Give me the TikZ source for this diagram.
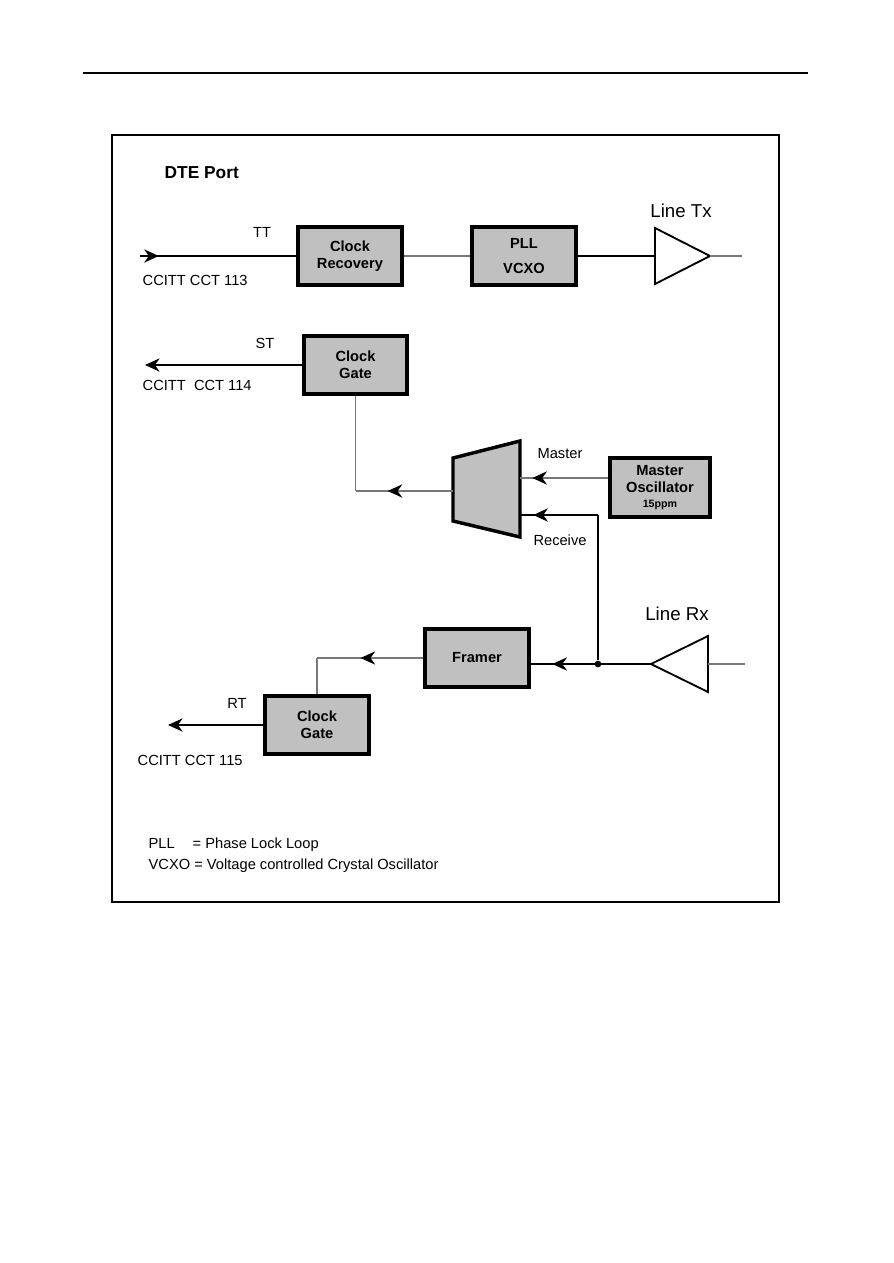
\documentclass[tikz,border=0pt]{standalone}
\usepackage{fontspec}
\setmainfont{Liberation Sans}
\usetikzlibrary{arrows.meta,decorations.markings}
\definecolor{boxgray}{RGB}{192,192,192}
\definecolor{wiregray}{RGB}{120,120,120}
\tikzset{
    clock diagram/.style = {x=0.75pt, y=-0.75pt,
                            >={Stealth[length=11pt,width=10pt]}},
    wire/.style          = {line width=0.8pt},
    gwire/.style         = {wire, draw=wiregray},
    unit/.style          = {draw, line width=2.6pt, fill=boxgray,
                            font=\bfseries\fontsize{11}{13}\selectfont,
                            align=center, inner sep=0pt,
                            minimum width=78pt, minimum height=43.5pt},
    amp/.style           = {line width=1.4pt, line join=miter},
    flow/.style          = {postaction={decorate},
                            decoration={markings,
                              mark=at position #1 with
                              {\arrow[black]{Stealth[length=11pt,width=10pt]}}}},
    sig/.style           = {font=\fontsize{11}{13}\selectfont},
    port/.style          = {font=\fontsize{14}{16}\selectfont},
    tap/.style           = {circle, fill, inner sep=0pt, minimum size=5pt}
}

\begin{document}
\begin{tikzpicture}[clock diagram]
\useasboundingbox (0,0) rectangle (893,1263);

% ================= Page rule and frame =================
\draw[line width=1.1pt] (83,73) -- (808,73);
\draw[line width=1.1pt] (112,135) rectangle (779,902);
\node[font=\bfseries\fontsize{13}{15}\selectfont, anchor=west] (title) at (160,173) {DTE Port};

% ================= Transmit path =================
\coordinate (ttin) at (140,256);
\node[unit] (crec) at (350,256) {Clock\\Recovery};
\node[unit] (pll) at (524,256) {PLL\\[6pt]VCXO};
\coordinate (txin) at (655,256);
\coordinate (txtip) at (710,256);
\coordinate (txout) at (742,256);
\draw[amp] (655,228) -- (txtip) -- (655,284) -- cycle;
\draw[wire, flow=0.12] (ttin) -- (crec.west);
\draw[gwire] (crec.east) -- (pll.west);
\draw[wire] (pll.east) -- (txin);
\draw[gwire] (txtip) -- (txout);
\node[sig] (tt) at (262,232) {TT};
\node[sig, anchor=west] (cct113) at (138,280) {CCITT CCT 113};
\node[port] (linetx) at (681,211) {Line Tx};

% ================= Send timing =================
\node[unit, minimum width=77pt] (cgs) at (355.5,365) {Clock\\Gate};
\coordinate (stout) at (145,365);
\draw[wire, ->] (cgs.west) -- (stout);
\node[sig] (st) at (265,343) {ST};
\node[sig, anchor=west] (cct114) at (138,385) {CCITT\ \ CCT 114};

% Clock source selector
\coordinate (muxlt) at (453,458);
\coordinate (muxrt) at (520,441);
\coordinate (muxrb) at (520,537);
\coordinate (muxlb) at (453,521);
\draw[line width=2.6pt, fill=boxgray, line join=miter]
    (muxlt) -- (muxrt) -- (muxrb) -- (muxlb) -- cycle;
\coordinate (muxout) at (453,491);
\coordinate (muxm) at (520,478);
\coordinate (muxr) at (520,515);
\coordinate (cgbend) at (cgs.south |- muxout);
\draw[gwire, flow=0.67] (muxout) -- (cgbend);
\draw[gwire] (cgbend) -- (cgs.south);

\node[unit, minimum width=75pt, minimum height=44pt] (mosc) at (660,487.5)
    {Master\\Oscillator\\[-2pt]{\fontsize{8}{9}\selectfont 15ppm}};
\draw[gwire, flow=0.86] (mosc.west |- muxm) -- (muxm);
\node[sig] (master) at (560,454) {Master};
\node[sig] (receive) at (560,540) {Receive};

% ================= Receive path =================
\coordinate (rxtip) at (651,664);
\coordinate (rxin) at (708,664);
\coordinate (rxline) at (745,664);
\draw[amp] (708,636) -- (rxtip) -- (708,692) -- cycle;
\draw[gwire] (rxline) -- (rxin);
\node[unit] (framer) at (477,658) {Framer};
\draw[wire, flow=0.82] (rxtip) -- (framer.east |- rxtip);
\node[tap] (junc) at (598,664) {};
\coordinate (rcvbend) at (598,515);
\draw[wire] (junc) -- (rcvbend);
\draw[wire, flow=0.83] (rcvbend) -- (muxr);
\node[port] (linerx) at (677,614) {Line Rx};

\node[unit] (cgr) at (317,725) {Clock\\Gate};
\coordinate (frbend) at (cgr.north |- framer.west);
\draw[gwire, flow=0.59] (framer.west) -- (frbend);
\draw[gwire] (frbend) -- (cgr.north);
\coordinate (rtout) at (168,725);
\draw[wire, ->] (cgr.west) -- (rtout);
\node[sig] (rt) at (237,703) {RT};
\node[sig, anchor=west] (cct115) at (133,760) {CCITT CCT 115};

% ================= Legend =================
\node[sig, anchor=west] (leg1) at (144,845) {\makebox[33pt][l]{PLL}= Phase Lock Loop};
\node[sig, anchor=west] (leg2) at (144,866) {VCXO = Voltage controlled Crystal Oscillator};

\end{tikzpicture}
\end{document}
